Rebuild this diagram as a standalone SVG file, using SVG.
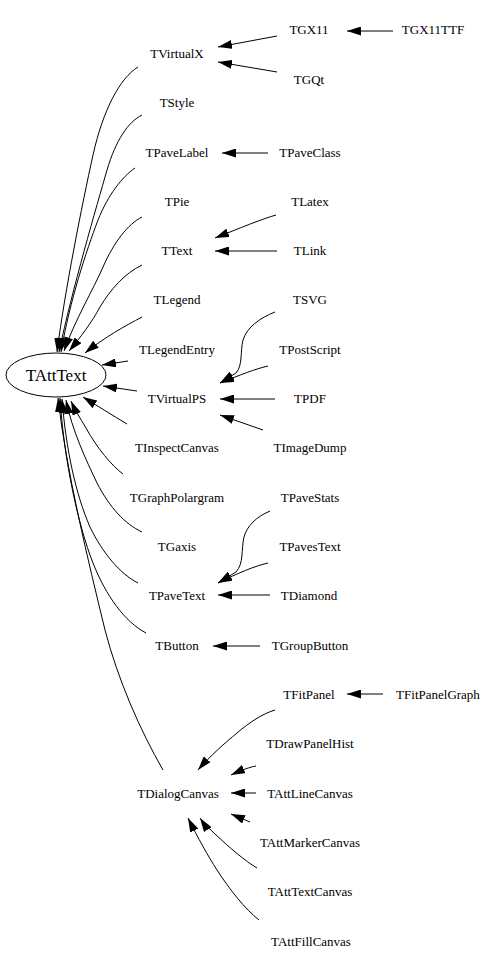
<svg xmlns="http://www.w3.org/2000/svg" width="499" height="971" viewBox="0 0 499 971">
<style>
text{font-family:"Liberation Serif","Times New Roman",serif;font-size:13px;fill:#000;text-anchor:middle}
.big{font-size:17px}
.e{fill:none;stroke:#000;stroke-width:1;marker-end:url(#ah)}
</style>
<defs>
<marker id="ah" viewBox="0 0 14 9" refX="14" refY="4.5" markerWidth="14" markerHeight="9" markerUnits="userSpaceOnUse" orient="auto"><path d="M0,0 L14,4.5 L0,9 z" fill="#000"/></marker>
</defs>
<rect width="499" height="971" fill="#fff"/>
<g id="edges">
<path class="e" d="M138,67 C120,78 103,110 93,155 C82,205 65,290 57,352"/>
<path class="e" d="M142,115 C128,122 116,140 107,170 C97,205 72,290 59,352"/>
<path class="e" d="M135,168 C122,177 108,195 98,220 C86,252 70,300 61,352"/>
<path class="e" d="M142,217 C128,224 114,242 103,267 C93,290 75,320 64,351"/>
<path class="e" d="M142,265 C125,273 110,290 100,307 C92,322 80,338 69,351"/>
<path class="e" d="M142,317 C125,326 105,337 85,353"/>
<path class="e" d="M128,361 L102,365"/>
<path class="e" d="M137,391 L103,386"/>
<path class="e" d="M127,424 C112,415 96,405 83,397"/>
<path class="e" d="M123,474 C112,466 97,448 86,428 C80,418 75,410 71,401"/>
<path class="e" d="M142,532 C125,524 110,508 97,483 C86,460 72,430 66,400"/>
<path class="e" d="M138,583 C120,574 102,552 90,527 C76,495 66,450 62,399"/>
<path class="e" d="M146,633 C125,622 106,596 93,563 C78,525 64,460 60,398"/>
<path class="e" d="M163,770 C140,730 118,680 105,630 C88,560 66,470 58,398"/>
<path class="e" d="M277,36 L218,47"/>
<path class="e" d="M277,72 L218,62"/>
<path class="e" d="M393,31 L347,31"/>
<path class="e" d="M268,153 L222,153"/>
<path class="e" d="M276,215 C262,219 240,228 215,238"/>
<path class="e" d="M277,251 L215,251"/>
<path class="e" d="M275,312 C260,318 247,327 243,340 C240,352 243,365 236,373 L220,383"/>
<path class="e" d="M268,366 C255,369 240,375 220,383"/>
<path class="e" d="M275,399 L220,399"/>
<path class="e" d="M263,430 L220,415"/>
<path class="e" d="M270,511 C256,517 247,526 244,537 C241,550 244,563 236,572 L218,583"/>
<path class="e" d="M268,563 C255,566 238,573 218,583"/>
<path class="e" d="M270,595 L218,595"/>
<path class="e" d="M260,646 L213,646"/>
<path class="e" d="M383,694 L347,694"/>
<path class="e" d="M275,710 C262,714 250,722 237,733 C226,742 210,756 198,770"/>
<path class="e" d="M256,766 C250,767 242,770 231,775"/>
<path class="e" d="M256,793 L231,793"/>
<path class="e" d="M250,822 L231,814"/>
<path class="e" d="M257,868 C245,861 230,848 215,834 C210,829 204,824 200,818"/>
<path class="e" d="M259,920 C245,909 230,890 217,870 C208,856 198,838 188,818"/>
</g>
<g id="TAttText"><ellipse cx="56" cy="375" rx="50" ry="22" fill="none" stroke="#000" stroke-width="1"/><text class="big" x="56" y="381">TAttText</text></g>
<g id="TVirtualX"><text x="177" y="58">TVirtualX</text></g>
<g id="TStyle"><text x="177" y="107">TStyle</text></g>
<g id="TPaveLabel"><text x="177" y="157">TPaveLabel</text></g>
<g id="TPie"><text x="177" y="206">TPie</text></g>
<g id="TText"><text x="177" y="255">TText</text></g>
<g id="TLegend"><text x="177" y="304">TLegend</text></g>
<g id="TLegendEntry"><text x="177" y="354">TLegendEntry</text></g>
<g id="TVirtualPS"><text x="177" y="403">TVirtualPS</text></g>
<g id="TInspectCanvas"><text x="177" y="452">TInspectCanvas</text></g>
<g id="TGraphPolargram"><text x="177" y="502">TGraphPolargram</text></g>
<g id="TGaxis"><text x="177" y="551">TGaxis</text></g>
<g id="TPaveText"><text x="177" y="600">TPaveText</text></g>
<g id="TButton"><text x="177" y="650">TButton</text></g>
<g id="TDialogCanvas"><text x="178" y="798">TDialogCanvas</text></g>
<g id="TGX11"><text x="309" y="34">TGX11</text></g>
<g id="TGX11TTF"><text x="433" y="34">TGX11TTF</text></g>
<g id="TGQt"><text x="309" y="84">TGQt</text></g>
<g id="TPaveClass"><text x="310" y="157">TPaveClass</text></g>
<g id="TLatex"><text x="310" y="206">TLatex</text></g>
<g id="TLink"><text x="310" y="255">TLink</text></g>
<g id="TSVG"><text x="310" y="304">TSVG</text></g>
<g id="TPostScript"><text x="310" y="354">TPostScript</text></g>
<g id="TPDF"><text x="310" y="403">TPDF</text></g>
<g id="TImageDump"><text x="310" y="452">TImageDump</text></g>
<g id="TPaveStats"><text x="310" y="502">TPaveStats</text></g>
<g id="TPavesText"><text x="310" y="551">TPavesText</text></g>
<g id="TDiamond"><text x="309" y="600">TDiamond</text></g>
<g id="TGroupButton"><text x="310" y="650">TGroupButton</text></g>
<g id="TFitPanel"><text x="309" y="699">TFitPanel</text></g>
<g id="TFitPanelGraph"><text x="438" y="699">TFitPanelGraph</text></g>
<g id="TDrawPanelHist"><text x="310" y="748">TDrawPanelHist</text></g>
<g id="TAttLineCanvas"><text x="310" y="798">TAttLineCanvas</text></g>
<g id="TAttMarkerCanvas"><text x="310" y="847">TAttMarkerCanvas</text></g>
<g id="TAttTextCanvas"><text x="310" y="896">TAttTextCanvas</text></g>
<g id="TAttFillCanvas"><text x="311" y="946">TAttFillCanvas</text></g>
</svg>
